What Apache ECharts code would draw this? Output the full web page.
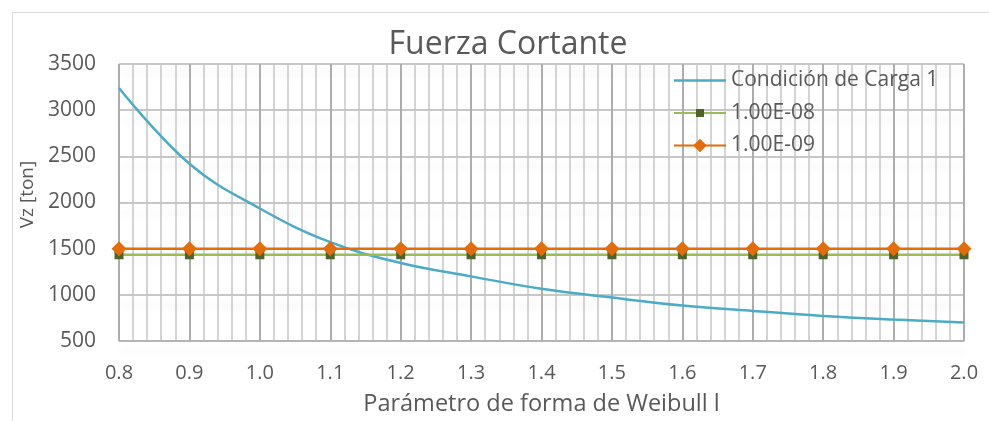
<!DOCTYPE html>
<html>
<head>
<meta charset="utf-8">
<script src="https://cdn.jsdelivr.net/npm/echarts@6/dist/echarts.min.js"></script>
<style>
html,body{margin:0;padding:0;background:#fff;}
#frame{position:absolute;left:12px;top:12px;width:1200px;height:600px;border-top:1px solid #d9d9d9;border-left:1px solid #d9d9d9;}
#chart{position:absolute;left:0;top:0;width:989px;height:421px;}
</style>
</head>
<body>
<div id="frame"></div>
<div id="chart"></div>
<script>
// Data
const shapeParam = [0.8, 0.9, 1.0, 1.1, 1.2, 1.3, 1.4, 1.5, 1.6, 1.7, 1.8, 1.9, 2.0];
const carga1 = [3240, 2420, 1935, 1570, 1345, 1200, 1065, 970, 885, 825, 772, 732, 700];
const lim1e08 = [1434, 1434, 1434, 1434, 1434, 1434, 1434, 1434, 1434, 1434, 1434, 1434, 1434];
const lim1e09 = [1500, 1500, 1500, 1500, 1500, 1500, 1500, 1500, 1500, 1500, 1500, 1500, 1500];
const seriesNames = ['Condición de Carga 1', '1.00E-08', '1.00E-09'];
const yTicks = [500, 1000, 1500, 2000, 2500, 3000, 3500];
const titleText = 'Fuerza Cortante';
const xTitle = 'Parámetro de forma de Weibull l';
const yTitle = 'Vz [ton]';

const pairs = arr => shapeParam.map((x, i) => [x, arr[i]]);
const FONT = '"Open Sans", sans-serif';
const TXT = '#595959';
const legendText = {fontFamily: FONT, fontSize: 21, color: TXT, lineHeight: 21};

const chart = echarts.init(document.getElementById('chart'), null, {renderer: 'canvas'});
chart.setOption({
  animation: false,
  backgroundColor: 'transparent',
  title: {
    text: titleText,
    left: 503,
    textAlign: 'center',
    top: 24,
    textStyle: {fontFamily: FONT, fontSize: 32, fontWeight: 'normal', color: TXT}
  },
  grid: {left: 119, right: 25, top: 64, bottom: 79, containLabel: false},
  legend: [
    {
      orient: 'vertical',
      left: 668,
      top: 65,
      itemWidth: 52,
      itemHeight: 10,
      itemGap: 11.5,
      data: [
        {name: seriesNames[0], icon: 'path://M0,0L52,0L52,2.5L0,2.5Z'},
        {name: seriesNames[1]}
      ],
      textStyle: legendText
    },
    {
      orient: 'vertical',
      left: 668,
      top: 130,
      itemWidth: 52,
      itemHeight: 17,
      data: [{name: seriesNames[2]}],
      textStyle: legendText
    }
  ],
  xAxis: {
    type: 'value',
    min: 0.8,
    max: 2.0,
    interval: 0.1,
    name: xTitle,
    nameLocation: 'middle',
    nameGap: 51,
    nameTextStyle: {fontFamily: FONT, fontSize: 23.5, color: TXT},
    axisLine: {show: true, lineStyle: {color: '#b0b0b0', width: 1.5}},
    axisTick: {show: false},
    axisLabel: {fontFamily: FONT, fontSize: 20, color: TXT, margin: 22,
      formatter: v => v.toFixed(1)},
    splitLine: {show: true, lineStyle: {color: '#adadad', width: 2}},
    minorTick: {show: false, splitNumber: 5},
    minorSplitLine: {show: true, lineStyle: {color: '#c6c6c6', width: 1.5}}
  },
  yAxis: {
    type: 'value',
    min: yTicks[0],
    max: yTicks[yTicks.length - 1],
    interval: 500,
    name: yTitle,
    nameLocation: 'middle',
    nameGap: 76,
    nameTextStyle: {fontFamily: FONT, fontSize: 19, color: TXT, padding: [0, 0, 0, 16]},
    axisLine: {show: false},
    axisTick: {show: false},
    axisLabel: {fontFamily: FONT, fontSize: 21, color: TXT, margin: 23,
      formatter: v => String(v)},
    splitLine: {show: true, lineStyle: {color: '#b4b4b4', width: 1.5,
      shadowColor: 'rgba(0,0,0,0.10)', shadowBlur: 8, shadowOffsetY: 10}}
  },
  series: [
    {
      name: seriesNames[0], type: 'line', data: pairs(carga1),
      smooth: 0.4, symbol: 'none',
      lineStyle: {color: '#4bacc6', width: 2.5}, itemStyle: {color: '#4bacc6'}, z: 3
    },
    {
      name: seriesNames[1], type: 'line', data: pairs(lim1e08),
      symbol: 'rect', symbolSize: 9,
      lineStyle: {color: '#9bbb59', width: 2.5}, itemStyle: {color: '#4f6228'}, z: 4
    },
    {
      name: seriesNames[2], type: 'line', data: pairs(lim1e09),
      symbol: 'diamond', symbolSize: 15,
      lineStyle: {color: '#e46c0a', width: 2.5}, itemStyle: {color: '#e46c0a'}, z: 5
    }
  ]
});
</script>
</body>
</html>
